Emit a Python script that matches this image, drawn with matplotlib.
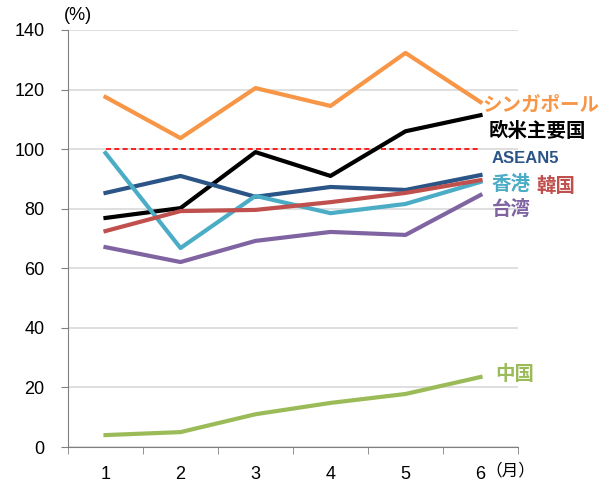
import numpy as np
import matplotlib.pyplot as plt

plt.rcParams['font.family'] = ['Liberation Sans', 'Noto Sans CJK JP']

months = [1, 2, 3, 4, 5, 6]
singapore = [117.5, 103.7, 120.5, 114.5, 132.3, 115.8]
europe_us = [76.9, 80.2, 99.0, 91.0, 106.0, 111.4]
asean5 = [85.3, 91.0, 84.0, 87.3, 86.3, 91.3]
hongkong = [98.7, 66.8, 84.3, 78.5, 81.6, 89.0]
korea = [72.5, 79.2, 79.6, 82.2, 85.3, 89.6]
taiwan = [67.1, 62.1, 69.2, 72.2, 71.2, 84.6]
china = [4.0, 5.0, 11.0, 14.8, 17.8, 23.5]
ref_level = 100

# (values, colour, label, label y, label x, label size)
series = [
    (singapore, '#F79646', 'シンガポール', 114.5, 6.03, 14),
    (europe_us, '#000000', '欧米主要国', 106.1, 6.11, 14),
    (asean5, '#2B5586', 'ASEAN5', 96.8, 6.15, 12),
    (hongkong, '#4BACC6', '香港', 88.0, 6.15, 14),
    (korea, '#C0504D', '韓国', 87.6, 6.75, 14),
    (taiwan, '#8064A2', '台湾', 79.9, 6.15, 14),
    (china, '#9BBB59', '中国', 24.3, 6.19, 14),
]

fig = plt.figure(figsize=(6.07, 4.82), dpi=100)
ax = fig.add_axes([68 / 607, 35 / 482, 450 / 607, 417 / 482])

ax.plot([months[0], months[-1]], [ref_level, ref_level], color='#FF0000',
        linestyle=(0, (3, 2)), linewidth=1.2, zorder=2)

for vals, col, name, ly, lx, fs in series:
    ax.plot(months, vals, color=col, linewidth=3, zorder=3)
    ax.text(lx, ly, name, color=col, fontsize=fs, fontweight='bold',
            va='center', ha='left', clip_on=False)

ax.set_xlim(0.5, 6.5)
ax.set_ylim(0, 140)
ax.set_yticks(np.arange(0, 141, 20))
ax.set_xticks(months)
ax.set_xticks(np.arange(0.5, 6.6, 1), minor=True)
ax.tick_params(axis='x', which='major', length=0, pad=14, labelsize=13)
ax.tick_params(axis='x', which='minor', length=5, color='#808080', direction='out')
ax.tick_params(axis='y', length=5, color='#808080', labelsize=13, pad=12)
ax.yaxis.grid(True, color='#D9D9D9', linewidth=1.2)
ax.set_axisbelow(True)
for s in ['top', 'right']:
    ax.spines[s].set_visible(False)
for s in ['left', 'bottom']:
    ax.spines[s].set_color('#808080')

ax.text(0.45, 145, '(%)', fontsize=13, ha='left', va='center', clip_on=False)
ax.text(6.06, -7.9, '（月）', fontsize=12, ha='left', va='center', clip_on=False)

fig.savefig('out.png', dpi=100)
